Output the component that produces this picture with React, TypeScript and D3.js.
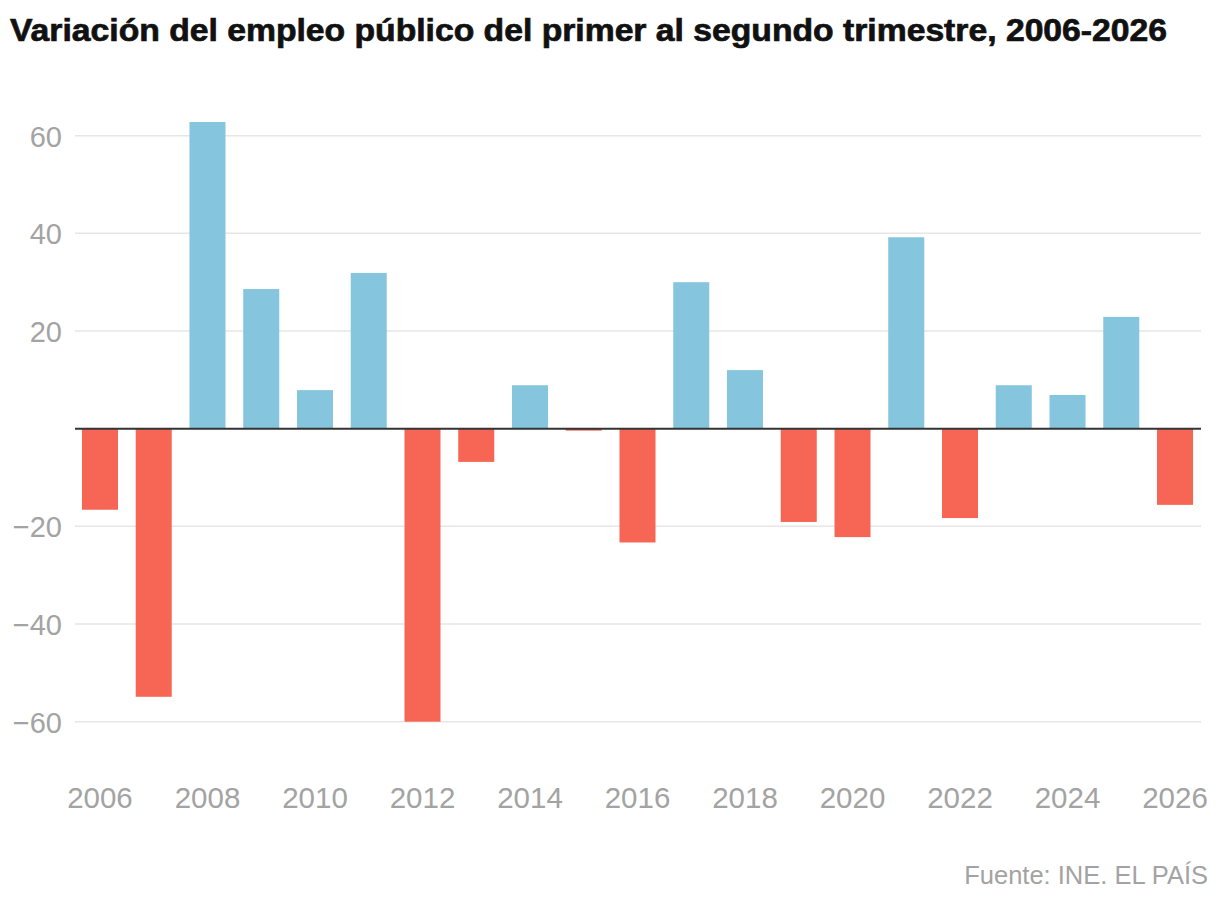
import React from "react";
import * as d3 from "d3";

const years = [2006,2007,2008,2009,2010,2011,2012,2013,2014,2015,2016,2017,2018,2019,2020,2021,2022,2023,2024,2025,2026];
const values = [-16.6,-54.9,62.8,28.6,7.9,31.9,-60.0,-6.8,8.9,-0.4,-23.3,30.0,12.0,-19.1,-22.2,39.2,-18.3,8.9,6.9,22.9,-15.6];
const yTicks = [-60,-40,-20,20,40,60];
const xTickYears = [2006,2008,2010,2012,2014,2016,2018,2020,2022,2024,2026];
const title = "Variación del empleo público del primer al segundo trimestre, 2006-2026";
const source = "Fuente: INE. EL PAÍS";

const W = 1220, H = 904;
const FONT = "'Liberation Sans', Arial, sans-serif";

export default function App() {
  const x = d3.scaleBand<number>().domain(years).range([73.1, 1201.9]).paddingInner(0.33).paddingOuter(0.165);
  const y = d3.scaleLinear().domain([-60, 60]).range([721.7, 135.7]);
  const gridX0 = 75, gridX1 = 1201;
  return (
    <div style={{ margin: -8 }}>
      <svg width={W} height={H} style={{ display: "block", background: "#fff" }}>
        <text x={10} y={41} fontFamily={FONT} fontWeight={700} fontSize={31} fill="#111" stroke="#111" strokeWidth={0.7} textLength={1157} lengthAdjust="spacingAndGlyphs">{title}</text>
        {yTicks.map((t) => (
          <g key={t}>
            <line x1={gridX0} x2={gridX1} y1={y(t)} y2={y(t)} stroke="#e6e6e6" strokeWidth={1.5} />
            <text x={62} y={y(t) + 11} textAnchor="end" fontFamily={FONT} fontSize={29} fill="#a3a3a3">{t < 0 ? "\u2212" + Math.abs(t) : String(t)}</text>
          </g>
        ))}
        {years.map((yr, i) => {
          const v = values[i];
          return (
            <rect key={yr} x={x(yr)} width={x.bandwidth()} y={Math.min(y(v), y(0))} height={Math.abs(y(v) - y(0))} fill={v >= 0 ? "#85c5de" : "#f76655"} />
          );
        })}
        <line x1={gridX0} x2={gridX1} y1={y(0)} y2={y(0)} stroke="#333" strokeWidth={2} />
        {xTickYears.map((yr) => (
          <text key={yr} x={(x(yr) as number) + x.bandwidth() / 2} y={808} textAnchor="middle" fontFamily={FONT} fontSize={29.5} fill="#a3a3a3">{yr}</text>
        ))}
        <text x={1208} y={884} textAnchor="end" fontFamily={FONT} fontSize={25.5} fill="#a3a3a3">{source}</text>
      </svg>
    </div>
  );
}
